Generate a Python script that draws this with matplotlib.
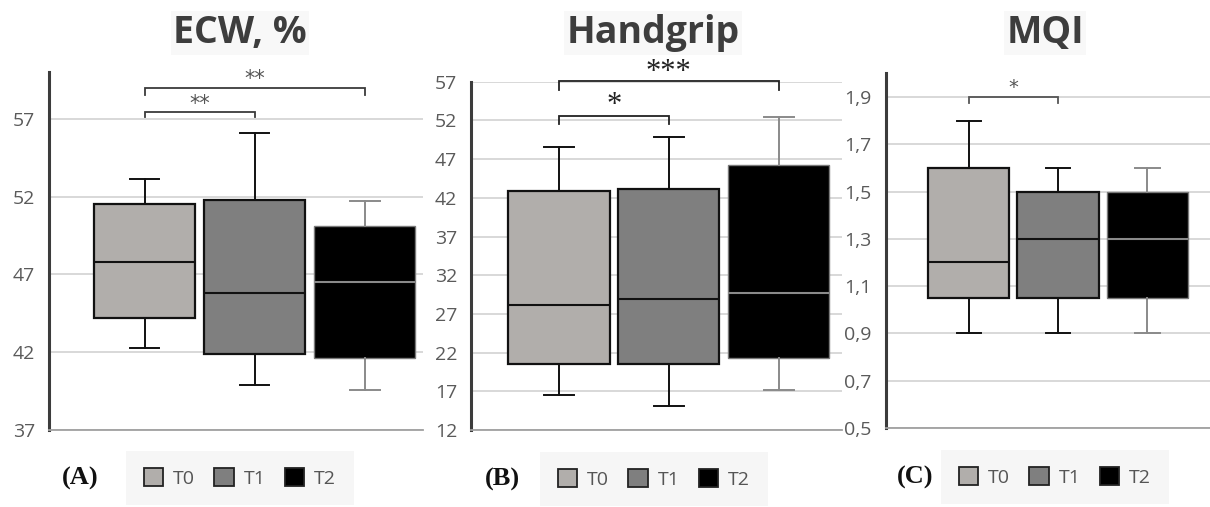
import matplotlib
matplotlib.use("Agg")
import matplotlib.pyplot as plt
from matplotlib.patches import Patch

# summary statistics per time point (whislo, q1, median, q3, whishi)
groups = ["T0", "T1", "T2"]

ecw_lo = [42.3, 39.9, 39.6]
ecw_q1 = [44.2, 41.9, 41.65]
ecw_med = [47.8, 45.8, 46.5]
ecw_q3 = [51.5, 51.8, 50.1]
ecw_hi = [53.1, 56.1, 51.7]

hg_lo = [16.5, 15.1, 17.2]
hg_q1 = [20.5, 20.5, 21.3]
hg_med = [28.1, 28.9, 29.7]
hg_q3 = [42.9, 43.1, 46.2]
hg_hi = [48.5, 49.9, 52.4]

mqi_lo = [0.9, 0.9, 0.9]
mqi_q1 = [1.05, 1.05, 1.05]
mqi_med = [1.2, 1.3, 1.3]
mqi_q3 = [1.6, 1.5, 1.5]
mqi_hi = [1.8, 1.6, 1.6]

ecw_ticks = [37, 42, 47, 52, 57]
hg_ticks = [12, 17, 22, 27, 32, 37, 42, 47, 52, 57]
mqi_ticks = [0.5, 0.7, 0.9, 1.1, 1.3, 1.5, 1.7, 1.9]
mqi_ticklabels = ["0,5", "0,7", "0,9", "1,1", "1,3", "1,5", "1,7", "1,9"]

# significance brackets: (from, to, label)
ecw_sig = [(0, 1, "**"), (0, 2, "**")]
hg_sig = [(0, 1, "*"), (0, 2, "***")]
mqi_sig = [(0, 1, "*")]

fills = ["#b1aeab", "#7f7f7f", "#000000"]
edges = ["#111111", "#111111", "#7a7a7a"]
lines = ["#111111", "#111111", "#8a8a8a"]

W, H = 1210, 507
fig = plt.figure(figsize=(W / 100, H / 100), dpi=100)
fig.patch.set_facecolor("white")


def px_axes(l, t, r, b):
    return fig.add_axes([l / W, 1 - b / H, (r - l) / W, (b - t) / H])


def draw_panel(ax, lo, q1, med, q3, hi, ticks, ticklabels, ylim, xlim, width):
    stats = []
    for i in range(3):
        stats.append(dict(whislo=lo[i], q1=q1[i], med=med[i], q3=q3[i], whishi=hi[i], label=groups[i]))
    bp = ax.bxp(stats, positions=[0, 1, 2], widths=width, capwidths=0.27,
                patch_artist=True, showfliers=False, manage_ticks=False)
    for i in range(3):
        bp["boxes"][i].set_facecolor(fills[i])
        bp["boxes"][i].set_edgecolor(edges[i])
        bp["boxes"][i].set_linewidth(1.6 if i < 2 else 1.0)
        bp["medians"][i].set_color(lines[i])
        bp["medians"][i].set_linewidth(1.5)
        for k in (2 * i, 2 * i + 1):
            bp["whiskers"][k].set_color(lines[i])
            bp["whiskers"][k].set_linewidth(1.4)
            bp["caps"][k].set_color(lines[i])
            bp["caps"][k].set_linewidth(1.4)
    ax.set_ylim(*ylim)
    ax.set_xlim(*xlim)
    ax.set_yticks(ticks)
    ax.set_yticklabels(ticklabels)
    ax.set_xticks([])
    ax.tick_params(axis="y", length=0, pad=10, labelsize=14, labelcolor="#5a5a5a")
    for lab in ax.get_yticklabels():
        lab.set_family("Open Sans")
    ax.yaxis.grid(True, color="#d6d6d6", linewidth=1.3)
    ax.set_axisbelow(True)
    for s in ("top", "right"):
        ax.spines[s].set_visible(False)
    ax.spines["left"].set_color("#3c3c3c")
    ax.spines["left"].set_linewidth(2.2)
    ax.spines["bottom"].set_color("#a0a0a0")
    ax.spines["bottom"].set_linewidth(1.3)
    ax.patch.set_alpha(0)


def brackets(ax, sig, levels, color, fsize, family, tcolor):
    for (a, b, lab), (ytop, ytick, ytext) in zip(sig, levels):
        ax.plot([a, a, b, b], [ytick, ytop, ytop, ytick], color=color, lw=1.3,
                clip_on=False, solid_joinstyle="miter")
        ax.text((a + b) / 2, ytext, lab, ha="center", va="center", fontsize=fsize,
                family=family, color=tcolor, clip_on=False, zorder=5)


def title(x, text):
    fig.text(x / W, 1 - 33 / H, text, ha="center", va="center", fontsize=27,
             fontweight="bold", family="Open Sans", color="#3d3d3d", zorder=-1,
             bbox=dict(facecolor="#f8f8f8", edgecolor="none", pad=2))


def legend(cx, cy, letter, lx):
    handles = [Patch(facecolor=fills[i], edgecolor="#222222", linewidth=1.3) for i in range(3)]
    leg = fig.legend(handles, groups, loc="center", bbox_to_anchor=(cx / W, 1 - cy / H),
                     ncol=3, frameon=True, handlelength=1.0, handleheight=1.0,
                     handletextpad=0.5, columnspacing=1.0, borderpad=0.9,
                     prop={"family": "Open Sans", "size": 14})
    leg.get_frame().set_facecolor("#f4f4f4")
    leg.get_frame().set_edgecolor("none")
    leg.get_frame().set_boxstyle("square", pad=0)
    for t in leg.get_texts():
        t.set_color("#555555")
    fig.text(lx / W, 1 - cy / H, "(" + letter + ")", ha="center", va="center",
             fontsize=19, fontweight="bold", family="Liberation Serif", color="#111111")


# (A) ECW
axA = px_axes(49, 72, 423, 430)
draw_panel(axA, ecw_lo, ecw_q1, ecw_med, ecw_q3, ecw_hi, ecw_ticks,
           [str(t) for t in ecw_ticks], (37, 60), (-0.868, 2.53), 0.92)
brackets(axA, ecw_sig, [(57.43, 57.1, 57.95), (58.99, 58.55, 59.55)],
         "#3a3a3a", 15, "DejaVu Sans", "#555555")
title(240, "ECW, %")
legend(240, 478, "A", 80)

# (B) Handgrip
axB = px_axes(471, 81.7, 842, 430)
draw_panel(axB, hg_lo, hg_q1, hg_med, hg_q3, hg_hi, hg_ticks,
           [str(t) for t in hg_ticks], (12, 57), (-0.80, 2.575), 0.92)
brackets(axB, hg_sig, [(52.6, 51.5, 53.9), (57.13, 55.9, 58.2)],
         "#222222", 22, "Liberation Serif", "#222222")
title(653, "Handgrip")
legend(654, 479, "B", 502)

# (C) MQI
axC = px_axes(885.7, 73.3, 1210, 428)
draw_panel(axC, mqi_lo, mqi_q1, mqi_med, mqi_q3, mqi_hi, mqi_ticks,
           mqi_ticklabels, (0.5, 2.0), (-0.93, 2.70), 0.91)
brackets(axC, mqi_sig, [(1.9, 1.873, 1.94)], "#555555", 14, "DejaVu Sans", "#555555")
title(1045, "MQI")
legend(1055, 477, "C", 915)

fig.savefig("out.png", dpi=100, facecolor="white")
